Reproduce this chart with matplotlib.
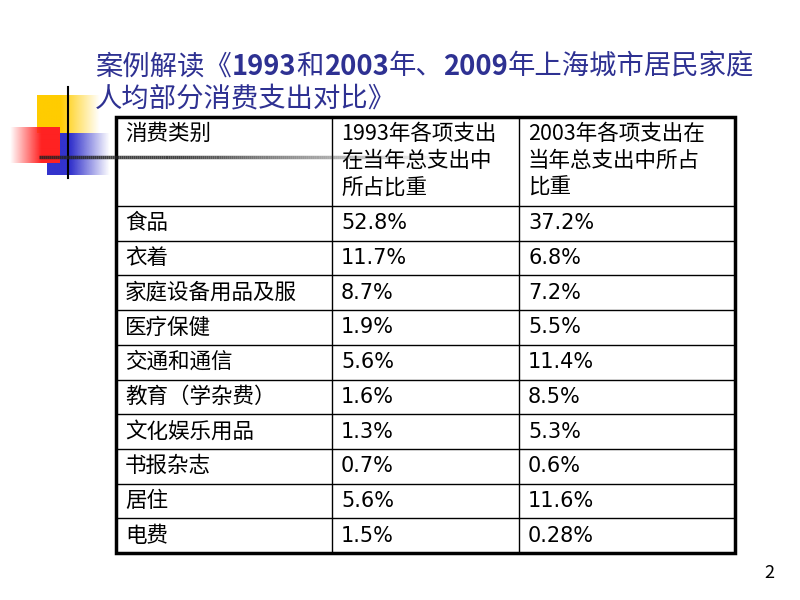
import numpy as np
import matplotlib
matplotlib.use("Agg")
import matplotlib.pyplot as plt

plt.rcParams['font.family'] = ['Noto Sans CJK SC', 'DejaVu Sans']

title_parts = [("案例解读《", "normal"), ("1993", "bold"), ("和", "normal"), ("2003", "bold"),
               ("年、", "normal"), ("2009", "bold"), ("年上海城市居民家庭", "normal")]
title_line2 = "人均部分消费支出对比》"
headers = ["消费类别", "1993年各项支出\n在当年总支出中\n所占比重", "2003年各项支出在\n当年总支出中所占\n比重"]
categories = ["食品", "衣着", "家庭设备用品及服", "医疗保健", "交通和通信", "教育（学杂费）",
              "文化娱乐用品", "书报杂志", "居住", "电费"]
share_1993 = ["52.8%", "11.7%", "8.7%", "1.9%", "5.6%", "1.6%", "1.3%", "0.7%", "5.6%", "1.5%"]
share_2003 = ["37.2%", "6.8%", "7.2%", "5.5%", "11.4%", "8.5%", "5.3%", "0.6%", "11.6%", "0.28%"]

W, H = 800, 600
fig = plt.figure(figsize=(8, 6), dpi=100)
ax = fig.add_axes([0, 0, 1, 1])
ax.set_xlim(0, W)
ax.set_ylim(H, 0)
ax.axis('off')

# decoration
def grad_rect(x0, x1, y0, y1, color, direction):
    n = 100
    rgba = np.zeros((1, n, 4))
    rgba[..., :3] = matplotlib.colors.to_rgb(color)
    if direction == 'right':
        a = np.clip(np.linspace(1.6, 0, n), 0, 1)
    else:
        a = np.clip(np.linspace(0, 1.6, n), 0, 1)
    rgba[0, :, 3] = a
    ax.imshow(rgba, extent=(x0, x1, y1, y0), aspect='auto', zorder=1, interpolation='bilinear')

grad_rect(37, 100, 95, 133, '#FFCC00', 'right')
grad_rect(47, 110, 133, 175, '#3333CC', 'right')
grad_rect(10, 60, 127, 163, '#FF2222', 'left')
ax.plot([68, 68], [87, 178], color='black', lw=1.5, zorder=3)
# fading horizontal line
n = 200
xs = np.linspace(39, 445, n)
for i in range(n - 1):
    f = i / (n - 1)
    alpha = 0.85 if f < 0.35 else max(0.0, 0.85 * (1 - (f - 0.35) / 0.65))
    ax.plot(xs[i:i + 2], [157, 157], color='#222222', lw=2.5, alpha=alpha, zorder=7,
            solid_capstyle='butt')

# title
tcol = '#2E3192'
fs_t = 19.7
x = 95
fig.canvas.draw()
r = fig.canvas.get_renderer()
for txt, wt in title_parts:
    t = ax.text(x, 67, txt, fontsize=fs_t, fontweight=wt, color=tcol, va='center', ha='left')
    bb = t.get_window_extent(renderer=r)
    x += bb.width * (W / fig.bbox.width)
ax.text(95, 99, title_line2, fontsize=fs_t, color=tcol, va='center', ha='left')

# table
left, right = 116, 735
c1, c2 = 332, 519
top, head_bot, bottom = 117, 206, 553
nrows = len(categories)
row_h = (bottom - head_bot) / nrows
ax.add_patch(plt.Rectangle((left, top), right - left, bottom - top, fill=False,
                           lw=2.5, edgecolor='black', zorder=5))
for cx in (c1, c2):
    ax.plot([cx, cx], [top, bottom], color='black', lw=1, zorder=4)
ys = [head_bot + i * row_h for i in range(nrows)]
for y in ys:
    ax.plot([left, right], [y, y], color='black', lw=1, zorder=4)

fs = 15.5
colx = [125, 341, 528]
for cx, h in zip(colx, headers):
    ax.text(cx, 123, h, fontsize=fs, va='top', ha='left', linespacing=1.28, zorder=6)
for i, (c, a, b) in enumerate(zip(categories, share_1993, share_2003)):
    yc = head_bot + (i + 0.5) * row_h
    ax.text(colx[0], yc, c, fontsize=fs, va='center', ha='left', zorder=6)
    ax.text(colx[1], yc, a, fontsize=15, va='center', ha='left', zorder=6,
            family=['DejaVu Sans'])
    ax.text(colx[2], yc, b, fontsize=15, va='center', ha='left', zorder=6,
            family=['DejaVu Sans'])

ax.text(769, 573, "2", fontsize=13, va='center', ha='center')

fig.savefig("out.png", dpi=100)
